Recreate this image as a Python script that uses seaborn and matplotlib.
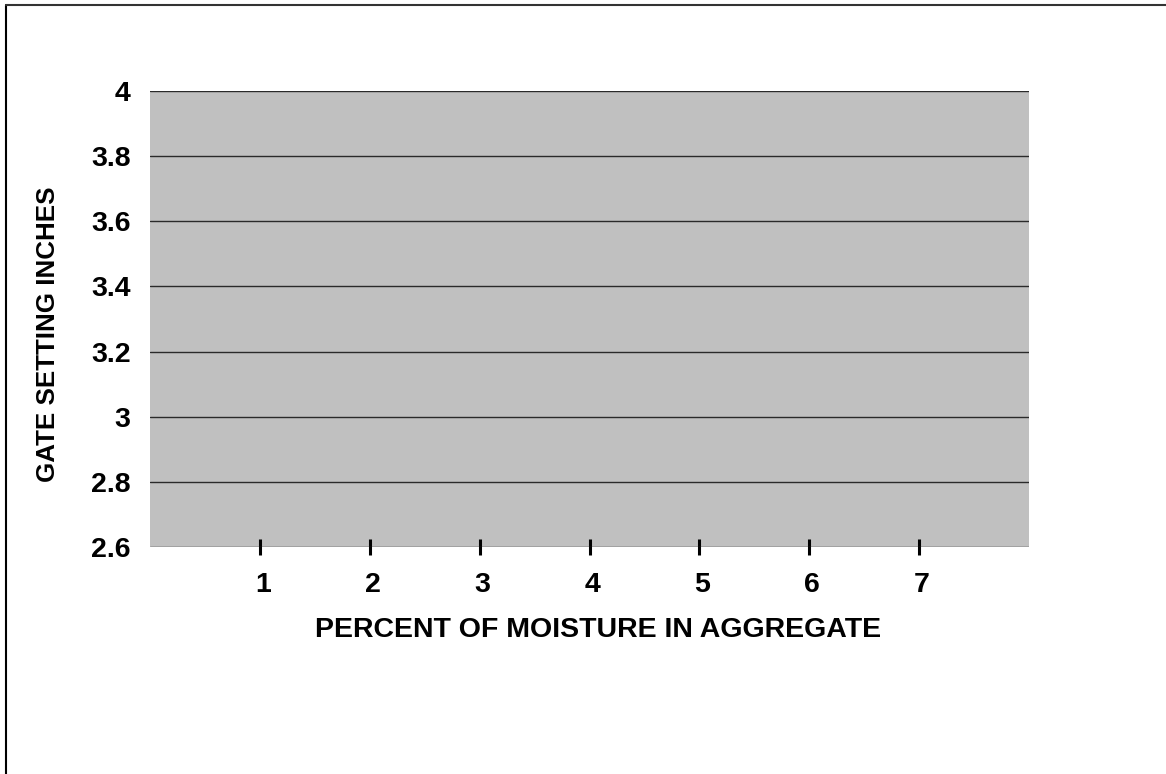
import matplotlib
matplotlib.use('Agg')
import matplotlib.pyplot as plt
import matplotlib.transforms as mtransforms
import seaborn as sns
from matplotlib.lines import Line2D

# axis values (no data series is plotted)
moisture_ticks = [1, 2, 3, 4, 5, 6, 7]
gate_ticks = [2.6, 2.8, 3.0, 3.2, 3.4, 3.6, 3.8, 4.0]
gate_labels = ['2.6', '2.8', '3', '3.2', '3.4', '3.6', '3.8', '4']

sns.set_theme(style='whitegrid', rc={
    'axes.facecolor': '#c0c0c0',
    'grid.color': '#2a2a2a',
    'grid.linewidth': 1.0,
    'axes.edgecolor': '#c0c0c0',
    'text.color': 'black',
    'axes.labelcolor': 'black',
    'xtick.color': 'black',
    'ytick.color': 'black',
})
plt.rcParams['font.family'] = ['Liberation Sans', 'DejaVu Sans']

fig = plt.figure(figsize=(11.66, 7.74), dpi=100)
ax = fig.add_axes([150 / 1166, 1 - 547 / 774, 879 / 1166, 456 / 774])

# empty line so seaborn builds the axes scales
sns.lineplot(x=moisture_ticks, y=[None] * len(moisture_ticks), ax=ax)

ax.set_xlim(0, 8)
ax.set_ylim(2.6, 4.0)
ax.set_yticks(gate_ticks)
ax.set_yticklabels(gate_labels, fontsize=20.5, fontweight='bold')
ax.set_xticks(moisture_ticks)
ax.set_xticklabels([str(v) for v in moisture_ticks], fontsize=20.5, fontweight='bold')
ax.grid(axis='x', visible=False)
ax.grid(axis='y', visible=True)
ax.tick_params(axis='x', direction='inout', length=11.5, width=2.2, color='black',
               bottom=True, pad=12)
ax.tick_params(axis='y', length=0, pad=14)
for s in ax.spines.values():
    s.set_visible(False)

# x tick labels sit a little right of their tick marks
shift = mtransforms.ScaledTranslation(3 / 100, 0, fig.dpi_scale_trans)
for lab in ax.get_xticklabels():
    lab.set_transform(lab.get_transform() + shift)

ax.set_xlabel('PERCENT OF MOISTURE IN AGGREGATE', fontsize=20.5, fontweight='bold')
ax.xaxis.label.set_va('center')
ax.xaxis.set_label_coords((598 - 150) / 879, (547 - 630) / 456)
ax.set_ylabel('GATE SETTING INCHES', fontsize=18.7, fontweight='bold')
ax.yaxis.label.set_va('center')
ax.yaxis.set_label_coords((48 - 150) / 879, (547 - 334) / 456)

# frame lines on left and top of the picture
fig.add_artist(Line2D([6 / 1166, 6 / 1166], [0, 1 - 5 / 774], transform=fig.transFigure,
                      color='black', linewidth=1.5))
fig.add_artist(Line2D([6 / 1166, 1], [1 - 5 / 774, 1 - 5 / 774], transform=fig.transFigure,
                      color='#333333', linewidth=1.5))

fig.savefig('out.png', dpi=100)
